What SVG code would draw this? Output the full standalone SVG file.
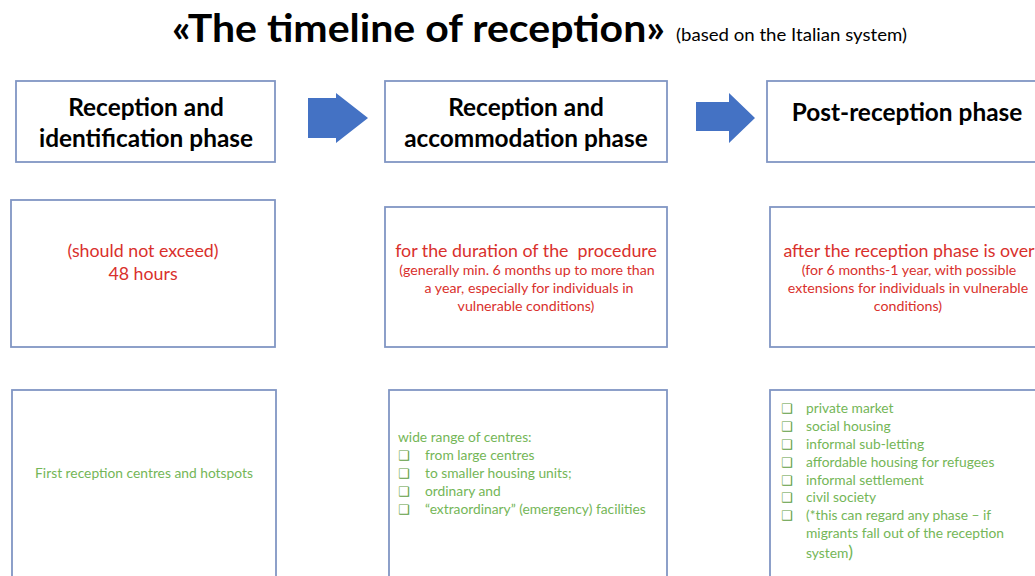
<svg xmlns="http://www.w3.org/2000/svg" width="1035" height="576" viewBox="0 0 1035 576">
<style>
.box{fill:#fff;stroke:#8196C4;stroke-width:1.8}
.head{font-family:Lato,"Liberation Sans",sans-serif;font-weight:bold;font-size:24.4px;fill:#000;text-anchor:middle}
.red{font-family:Lato,"Liberation Sans",sans-serif;font-size:17.8px;fill:#D9302C;text-anchor:middle;white-space:pre}
.reds{font-family:Lato,"Liberation Sans",sans-serif;font-size:14.2px;fill:#D9302C;text-anchor:middle}
.grn{font-family:Lato,"Liberation Sans",sans-serif;font-size:13.8px;fill:#74B657}
.cb{font-family:"DejaVu Sans",sans-serif;font-size:13px;font-weight:bold;fill:#5FA043}
.arrow{fill:#4472C4}
</style>
<rect width="1035" height="576" fill="#fff"/>
<g id="title">
<text x="172" y="42" font-family="Lato,'Liberation Sans',sans-serif" font-weight="bold" font-size="39" fill="#000" textLength="493" lengthAdjust="spacingAndGlyphs">«The timeline of reception»</text>
<text x="676" y="41" font-family="Lato,'Liberation Sans',sans-serif" font-size="17" fill="#000" textLength="231" lengthAdjust="spacingAndGlyphs">(based on the Italian system)</text>
</g>
<g id="phase1">
<rect class="box" x="16" y="81" width="259" height="81"/>
<text class="head" x="146" y="116">Reception and</text>
<text class="head" x="146" y="147">identification phase</text>
</g>
<g id="phase2">
<rect class="box" x="385" y="81" width="282" height="81"/>
<text class="head" x="526" y="116">Reception and</text>
<text class="head" x="526" y="147">accommodation phase</text>
</g>
<g id="phase3">
<rect class="box" x="767" y="81" width="280" height="81"/>
<text class="head" x="907" y="121">Post-reception phase</text>
</g>
<g id="connectors">
<polygon class="arrow" points="308,98 336,98 336,93 368,118 336,143 336,138 308,138"/>
<polygon class="arrow" points="696,102 729,102 729,93 755,118 729,143 729,131 696,131"/>
</g>
<g id="duration1">
<rect class="box" x="11" y="200" width="264" height="147"/>
<text class="red" x="143" y="257">(should not exceed)</text>
<text class="red" x="143" y="280">48 hours</text>
</g>
<g id="duration2">
<rect class="box" x="385" y="207" width="282" height="140"/>
<text class="red" x="526" y="257" xml:space="preserve">for the duration of the  procedure</text>
<text class="reds" x="527" y="275">(generally min. 6 months up to more than</text>
<text class="reds" x="529" y="293">a year, especially for individuals in</text>
<text class="reds" x="526" y="311">vulnerable conditions)</text>
</g>
<g id="duration3">
<rect class="box" x="770" y="207" width="280" height="140"/>
<text class="red" x="909" y="257">after the reception phase is over</text>
<text class="reds" x="909" y="275">(for 6 months-1 year, with possible</text>
<text class="reds" x="908" y="293">extensions for individuals in vulnerable</text>
<text class="reds" x="908" y="311">conditions)</text>
</g>
<g id="housing1">
<rect class="box" x="12" y="390" width="264" height="200"/>
<text class="grn" x="144" y="478" text-anchor="middle">First reception centres and hotspots</text>
</g>
<g id="housing2">
<rect class="box" x="389" y="390" width="278" height="200"/>
<text class="grn" x="398" y="442">wide range of centres:</text>
<text class="cb" x="398" y="460">❑</text><text class="grn" x="425" y="460">from large centres</text>
<text class="cb" x="398" y="478">❑</text><text class="grn" x="425" y="478">to smaller housing units;</text>
<text class="cb" x="398" y="496">❑</text><text class="grn" x="425" y="496">ordinary and</text>
<text class="cb" x="398" y="514">❑</text><text class="grn" x="425" y="514">“extraordinary” (emergency) facilities</text>
</g>
<g id="housing3">
<rect class="box" x="770" y="390" width="280" height="200"/>
<text class="cb" x="781" y="413">❑</text><text class="grn" x="806" y="413">private market</text>
<text class="cb" x="781" y="431">❑</text><text class="grn" x="806" y="431">social housing</text>
<text class="cb" x="781" y="449">❑</text><text class="grn" x="806" y="449">informal sub-letting</text>
<text class="cb" x="781" y="467">❑</text><text class="grn" x="806" y="467">affordable housing for refugees</text>
<text class="cb" x="781" y="485">❑</text><text class="grn" x="806" y="485">informal settlement</text>
<text class="cb" x="781" y="502">❑</text><text class="grn" x="806" y="502">civil society</text>
<text class="cb" x="781" y="520">❑</text><text class="grn" x="806" y="520">(*this can regard any phase – if</text>
<text class="grn" x="806" y="538">migrants fall out of the reception</text>
<text class="grn" x="806" y="558">system<tspan font-size="18">)</tspan></text>
</g>
</svg>
